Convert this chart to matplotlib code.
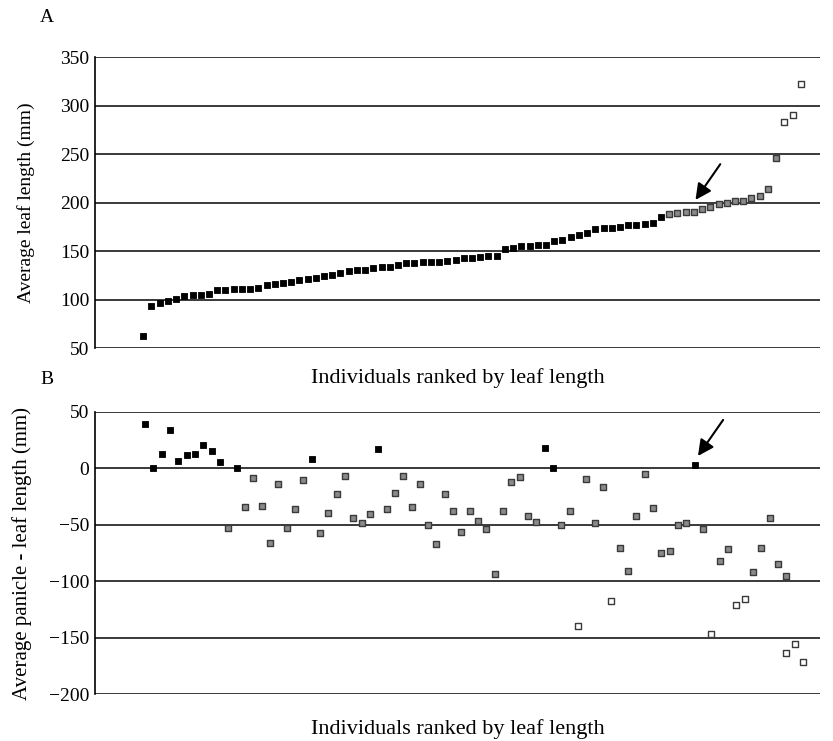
import numpy as np
import matplotlib
matplotlib.use("Agg")
from matplotlib import pyplot as plt

plt.rcParams['font.family'] = ['Liberation Serif', 'DejaVu Serif']

# panel A: average leaf length (mm), ranked
leaf_len = [62.7, 93.5, 96.6, 98.6, 100.3, 103.8, 104.5, 105.1, 106.2, 109.6,
            109.9, 110.6, 111.0, 111.3, 111.6, 115.0, 115.8, 117.1, 117.8, 120.2,
            120.9, 122.6, 124.0, 125.3, 127.7, 129.8, 130.8, 130.8, 132.9, 133.6,
            133.9, 136.0, 137.7, 137.7, 138.4, 138.7, 138.7, 139.4, 140.8, 142.8,
            143.5, 144.2, 145.5, 145.5, 152.4, 153.4, 155.8, 155.8, 156.2, 156.2,
            160.6, 161.3, 165.1, 167.1, 169.0, 172.6, 173.5, 174.3, 175.3, 177.0,
            177.0, 177.7, 179.5, 185.6, 188.0, 189.0, 190.4, 190.4, 193.2, 195.9,
            198.3, 199.7, 202.0, 202.0, 204.5, 206.5, 214.4, 246.2, 282.9, 290.4,
            322.3]
leaf_grp = ['k'] * 64 + ['g'] * 14 + ['w'] * 3

# panel B: panicle - leaf length (mm)
rank_b = list(range(78)) + [77, 78, 79]
diff = [39, 0, 13, 34, 7, 11.5, 13, 21, 15.6, 5.3,
        -52.6, 0, -34, -8.5, -33.5, -66.4, -13.8, -52.6, -36, -10.6,
        8.5, -57.6, -39.4, -22.3, -6.8, -43.8, -48.2, -40, 17.3, -36,
        -21.8, -6.8, -34, -13.8, -50.3, -66.7, -22.9, -38.2, -56.2, -37.6,
        -46.7, -53.8, -93.2, -38.2, -12.3, -7.4, -42.6, -47.9, 18.2, 0,
        -50.6, -38.2, -139.4, -9.4, -48.8, -16.8, -117.6, -70.6, -91.1, -42.6,
        -5.3, -34.7, -75, -73.5, -50.3, -48.2, 3.2, -54.1, -146.7, -82.3,
        -71.2, -121.4, -115.8, -92, -70.6, -44.4, -84.7, -95, -163.8, -155.5,
        -171.7]

styles = {'k': dict(color='black', edgecolor='black', s=17, linewidths=0.6),
          'g': dict(color='#8a8a8a', edgecolor='#3a3a3a', s=20, linewidths=1.0),
          'w': dict(color='white', edgecolor='#3a3a3a', s=20, linewidths=1.0)}


def grp_b(v):
    if v >= 0:
        return 'k'
    if v > -100:
        return 'g'
    return 'w'


fig = plt.figure(figsize=(8.33, 7.41), dpi=100)
axA = fig.add_axes([0.114, 0.530, 0.870, 0.393])
axB = fig.add_axes([0.114, 0.0634, 0.870, 0.3806])

xa = np.arange(len(leaf_len))
la = np.array(leaf_len)
ga = np.array(leaf_grp)
for g in ['k', 'g', 'w']:
    m = ga == g
    axA.scatter(xa[m], la[m], marker='s', zorder=3, **styles[g])

xb = np.array(rank_b)
db = np.array(diff)
gb = np.array([grp_b(v) for v in diff])
for g in ['k', 'g', 'w']:
    m = gb == g
    axB.scatter(xb[m], db[m], marker='s', zorder=3, **styles[g])

axA.set_xlim(-5.87, 82.3)
axA.set_ylim(50, 350)
axA.set_yticks([50, 100, 150, 200, 250, 300, 350])
axB.set_xlim(-6.0, 81.0)
axB.set_ylim(-200, 50)
axB.set_yticks([-200, -150, -100, -50, 0, 50])

for ax in (axA, axB):
    for s in ['top', 'right', 'bottom']:
        ax.spines[s].set_visible(False)
    ax.spines['left'].set_linewidth(1.2)
    ax.set_xticks([])
    ax.tick_params(axis='y', length=0, labelsize=14, pad=4)
    ax.yaxis.grid(True, color='#2a2a2a', linewidth=1.3)
    ax.set_axisbelow(True)
    ax.set_xlabel('Individuals ranked by leaf length', fontsize=16)

axA.xaxis.labelpad = 14
axB.xaxis.labelpad = 18
axA.set_ylabel('Average leaf length (mm)', fontsize=14, labelpad=18)
axB.set_ylabel('Average panicle - leaf length (mm)', fontsize=15, labelpad=12)

# arrows marking the highlighted individual
axA.annotate('', xy=(67, 200.5), xytext=(70.4, 242),
             arrowprops=dict(arrowstyle='-|>', color='black', lw=1.5,
                             mutation_scale=24))
axB.annotate('', xy=(66.2, 9), xytext=(69.6, 45),
             arrowprops=dict(arrowstyle='-|>', color='black', lw=1.5,
                             mutation_scale=24))

fig.text(0.048, 0.970, 'A', fontsize=14)
fig.text(0.048, 0.482, 'B', fontsize=14)

fig.savefig('out.png', dpi=100)
